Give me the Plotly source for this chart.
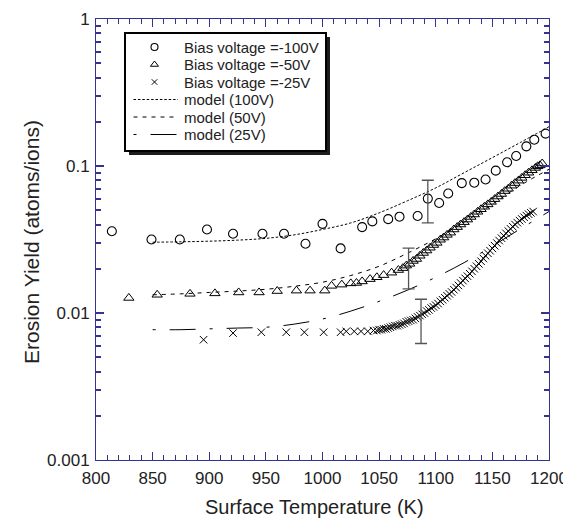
import plotly.graph_objects as go

# ---------------- data ----------------
# Bias voltage = -100 V  (open circles)
c_T = [814, 849, 874, 898, 921, 947, 966, 985, 1000, 1016, 1035, 1044, 1058, 1068,
       1084, 1093, 1103, 1111, 1123, 1134, 1144, 1153, 1163, 1171, 1180, 1187, 1197]
c_Y = [0.036, 0.0316, 0.0316, 0.037, 0.0346, 0.0346, 0.0346, 0.0296, 0.0404, 0.0275,
       0.0384, 0.042, 0.0435, 0.0452, 0.0457, 0.060, 0.056, 0.065, 0.0765, 0.077,
       0.081, 0.093, 0.106, 0.117, 0.136, 0.151, 0.166]

# Bias voltage = -50 V  (open triangles)
t_T = [829, 854, 883, 905, 926, 944, 960, 977, 989, 1002, 1008, 1017, 1025, 1030,
       1035, 1042, 1048, 1054, 1061, 1067,
       1071, 1074, 1077, 1080, 1083, 1086, 1089, 1092, 1095, 1098, 1101, 1104, 1107,
       1110, 1113, 1116, 1119, 1122, 1125, 1128, 1131, 1134, 1137, 1140, 1143, 1146,
       1149, 1152, 1155, 1158, 1161, 1164, 1167, 1170, 1173, 1176, 1179, 1182, 1185,
       1188, 1190, 1192, 1194]
t_Y = [0.01266, 0.0133, 0.0135, 0.0136, 0.0138, 0.0138, 0.0141, 0.0142, 0.0142, 0.0142,
       0.0153, 0.0156, 0.0159, 0.0160, 0.0164, 0.0170, 0.0175, 0.0181, 0.0188, 0.0196,
       0.0202, 0.0210, 0.0216, 0.0226, 0.0233, 0.0245, 0.0256, 0.0266, 0.0278, 0.0290,
       0.0300, 0.0315, 0.0326, 0.0340, 0.0352, 0.0370, 0.0384, 0.0400, 0.0415, 0.0432,
       0.0450, 0.0468, 0.0488, 0.0508, 0.0528, 0.0548, 0.0570, 0.0595, 0.0620, 0.0645,
       0.0675, 0.0700, 0.0735, 0.0765, 0.0795, 0.0830, 0.0865, 0.0900, 0.0935, 0.0970,
       0.0995, 0.1010, 0.1040]

# Bias voltage = -25 V  (crosses)
x_T = [895, 921, 946, 968, 984, 1001, 1016, 1021, 1028, 1034, 1040, 1045,
       1048, 1050, 1052, 1054, 1056, 1058, 1060, 1062, 1064, 1066, 1068, 1070, 1072,
       1074, 1076, 1078, 1080, 1082, 1084, 1086, 1088, 1090, 1092, 1094, 1096, 1098,
       1100, 1102, 1104, 1106, 1108, 1110, 1112, 1114, 1116, 1118, 1120, 1122, 1124,
       1126, 1128, 1130, 1132, 1134, 1136, 1138, 1140, 1142, 1144, 1146, 1148, 1150,
       1152, 1154, 1156, 1158, 1160, 1162, 1164, 1166, 1168, 1170, 1172, 1174, 1176,
       1178, 1180, 1182, 1184, 1186]
x_Y = [0.00658, 0.0073, 0.0074, 0.0074, 0.0074, 0.0074, 0.0074, 0.0075, 0.0075, 0.0075,
       0.0075, 0.0076,
       0.0076, 0.0077, 0.0077, 0.0078, 0.0078, 0.0079, 0.0080, 0.0081, 0.0082, 0.0082,
       0.0083, 0.0084, 0.0085, 0.0087, 0.0088, 0.0089, 0.0090, 0.0092, 0.0094, 0.0096,
       0.0098, 0.0100, 0.0103, 0.0105, 0.0108, 0.0110, 0.0113, 0.0116, 0.0120, 0.0123,
       0.0127, 0.0131, 0.0135, 0.0139, 0.0144, 0.0149, 0.0154, 0.0160, 0.0166, 0.0172,
       0.0178, 0.0185, 0.0192, 0.0200, 0.0208, 0.0216, 0.0225, 0.0235, 0.0245, 0.0255,
       0.0265, 0.0275, 0.0287, 0.0299, 0.0311, 0.0323, 0.0335, 0.0348, 0.0361, 0.0374,
       0.0387, 0.0400, 0.0412, 0.0425, 0.0436, 0.0448, 0.0460, 0.0470, 0.0480, 0.0490]

# model curves
m_T = [850, 875, 900, 925, 950, 975, 1000, 1025, 1050, 1075, 1100, 1125, 1150, 1175, 1200]
m100_Y = [0.0303, 0.0305, 0.0308, 0.0313, 0.0322, 0.0340, 0.0370, 0.0410, 0.0480,
          0.0580, 0.0710, 0.0900, 0.1140, 0.1450, 0.1850]
m50_Y = [0.0133, 0.0135, 0.0138, 0.0141, 0.0145, 0.0152, 0.0162, 0.0180, 0.0208,
         0.0255, 0.0320, 0.0415, 0.0550, 0.0740, 0.0950]
m25_Y = [0.0077, 0.0077, 0.0078, 0.0079, 0.0080, 0.0084, 0.0091, 0.0103, 0.0120,
         0.0143, 0.0175, 0.0220, 0.0285, 0.0375, 0.0490]

# error bars
eb_T = [1093, 1076, 1087]
eb_Y = [0.057, 0.020, 0.0088]
eb_hi = [0.080, 0.0276, 0.0124]
eb_lo = [0.041, 0.0146, 0.0062]

x_ticks = [800, 850, 900, 950, 1000, 1050, 1100, 1150, 1200]
y_ticks = [0.001, 0.01, 0.1, 1]
y_ticktext = ["0.001", "0.01", "0.1", "1"]
y_minor = [m * d for d in (0.001, 0.01, 0.1) for m in range(2, 10)]

legend_names = ["Bias voltage =-100V", "Bias voltage =-50V", "Bias voltage =-25V",
                "model (100V)", "model (50V)", "model (25V)"]

# ---------------- styling / geometry ----------------
AX = "#34348f"
INK = "#222222"
FONT = "Liberation Sans, Arial, sans-serif"
W, H = 571, 518
ML, MR, MT, MB = 88, 30, 11, 66
PW, PH = W - ML - MR, H - MT - MB


def px_x(px):  # figure pixel -> plot-area fraction
    return (px - ML) / PW


def px_y(py):
    return (H - MB - py) / PH


styles = [
    dict(mode="markers", marker=dict(symbol="circle-open", size=9, color="black",
                                     line=dict(width=1.1, color="black"))),
    dict(mode="markers", marker=dict(symbol="triangle-up-open", size=9, color="black",
                                     line=dict(width=1, color="black"))),
    dict(mode="markers", marker=dict(symbol="x-thin-open", size=7.5, color="black",
                                     line=dict(width=1, color="black"))),
    dict(mode="lines", line=dict(color="black", width=1, dash="2.5px,1.9px", shape="spline")),
    dict(mode="lines", line=dict(color="black", width=1, dash="4px,5px", shape="spline")),
    dict(mode="lines", line=dict(color="black", width=1, dash="3px,14px,26px,14px",
                                 shape="spline")),
]
series = [(c_T, c_Y), (t_T, t_Y), (x_T, x_Y), (m_T, m100_Y), (m_T, m50_Y), (m_T, m25_Y)]

fig = go.Figure()
for (xs, ys), st, nm in zip(series, styles, legend_names):
    fig.add_trace(go.Scatter(x=xs, y=ys, name=nm, showlegend=False, **st))

fig.add_trace(go.Scatter(
    x=eb_T, y=eb_Y, mode="markers", showlegend=False,
    marker=dict(size=1, color="rgba(0,0,0,0)"),
    error_y=dict(type="data", symmetric=False,
                 array=[h - y for h, y in zip(eb_hi, eb_Y)],
                 arrayminus=[y - l for l, y in zip(eb_lo, eb_Y)],
                 color="#555555", thickness=1.3, width=6)))

# ---------------- hand-drawn legend (box with drop shadow) ----------------
LEG_L, LEG_T, LEG_R, LEG_B = 117, 25, 318, 143
SH = 4
ROW0, ROW_DY = 39, 17.5
SYM_X, LINE_X0, LINE_X1, TEXT_X = 146.5, 125.5, 170, 174

fig.add_shape(type="rect", xref="paper", yref="paper", layer="below",
              x0=px_x(LEG_L + SH), x1=px_x(LEG_R + SH), y0=px_y(LEG_B + SH), y1=px_y(LEG_T + SH),
              fillcolor="#1c1c1c", line=dict(width=0))
fig.add_shape(type="rect", xref="paper", yref="paper", layer="below",
              x0=px_x(LEG_L), x1=px_x(LEG_R), y0=px_y(LEG_B), y1=px_y(LEG_T),
              fillcolor="white", line=dict(width=2, color="black"))

for i, (st, nm) in enumerate(zip(styles, legend_names)):
    ry = px_y(ROW0 + i * ROW_DY)
    st = dict(st)
    if st["mode"] == "markers":
        mk = dict(st["marker"])
        mk["size"] = mk["size"] - 2
        fig.add_trace(go.Scatter(x=[px_x(SYM_X)], y=[ry], mode="markers", marker=mk,
                                 xaxis="x2", yaxis="y2", showlegend=False,
                                 cliponaxis=False, hoverinfo="skip"))
    else:
        ln = dict(st["line"])
        ln.pop("shape", None)
        fig.add_trace(go.Scatter(x=[px_x(LINE_X0), px_x(LINE_X1)], y=[ry, ry], mode="lines",
                                 line=ln, xaxis="x2", yaxis="y2", showlegend=False,
                                 cliponaxis=False, hoverinfo="skip"))
    fig.add_annotation(x=px_x(TEXT_X), y=ry, xref="paper", yref="paper", text=nm,
                       showarrow=False, xanchor="left", yanchor="middle",
                       font=dict(family=FONT, size=15, color=INK))

# axis titles
fig.add_annotation(x=px_x(306), y=px_y(499), xref="paper", yref="paper",
                   text="Surface Temperature (K)", showarrow=False,
                   xanchor="center", yanchor="middle",
                   font=dict(family=FONT, size=20, color=INK))
fig.add_annotation(x=px_x(23), y=px_y(234), xref="paper", yref="paper",
                   text="Erosion Yield (atoms/ions)", showarrow=False, textangle=-90,
                   xanchor="center", yanchor="middle",
                   font=dict(family=FONT, size=21, color=INK))

fig.update_layout(
    width=W, height=H,
    margin=dict(l=ML, r=MR, t=MT, b=MB),
    paper_bgcolor="white", plot_bgcolor="white",
    font=dict(family=FONT, color=INK, size=17),
    showlegend=False,
    xaxis=dict(range=[800, 1200], tickvals=x_ticks, ticks="inside", ticklen=8,
               tickcolor=AX, tickwidth=1, showline=True, linecolor=AX, linewidth=1,
               mirror="ticks", showgrid=False, zeroline=False, automargin=False,
               tickfont=dict(size=17, color=INK), ticklabelstandoff=3,
               minor=dict(dtick=10, ticks="inside", ticklen=5, tickcolor=AX,
                          showgrid=False)),
    yaxis=dict(type="log", range=[-3, 0], tickvals=y_ticks, ticktext=y_ticktext,
               ticks="inside", ticklen=8, tickcolor=AX, tickwidth=1.5,
               showline=True, linecolor=AX, linewidth=1, mirror="ticks",
               showgrid=False, zeroline=False, automargin=False,
               tickfont=dict(size=17, color=INK), ticklabelstandoff=2,
               minor=dict(tickvals=y_minor, ticks="inside", ticklen=5, tickcolor=AX,
                          showgrid=False)),
    xaxis2=dict(overlaying="x", range=[0, 1], visible=False, fixedrange=True),
    yaxis2=dict(overlaying="y", range=[0, 1], visible=False, fixedrange=True),
)

fig.write_html("out.html")
